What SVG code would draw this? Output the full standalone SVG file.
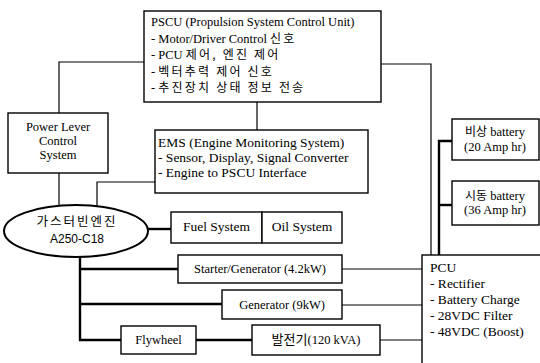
<svg xmlns="http://www.w3.org/2000/svg" width="540" height="363" viewBox="0 0 540 363">
<style>
.box{fill:#fff;stroke:#000;stroke-width:1.4}
.t{font-family:"Liberation Serif","Noto Sans CJK KR",serif;font-size:12.5px;fill:#000}
.m{font-size:13.5px}
.k{font-family:"Noto Sans CJK KR",sans-serif;font-size:12px;font-weight:400;letter-spacing:2.2px}
.kk{font-family:"Noto Sans CJK KR",sans-serif;font-size:12px;font-weight:400}
.c{text-anchor:middle}
.thin{fill:none;stroke:#000;stroke-width:1.2}
.thick{fill:none;stroke:#000;stroke-width:2.4}
</style>
<rect width="540" height="363" fill="#fff"/>
<g id="connectors">
<path class="thin" d="M144,62 H59 V113"/>
<path class="thin" d="M59,173 V206"/>
<path class="thin" d="M257,102 V130"/>
<path class="thin" d="M155,182 H97 V207"/>
<path class="thin" d="M381,64 H431 V255"/>
<path class="thick" d="M452,141 H439 V255"/>
<path class="thick" d="M439,205 H452"/>
<path class="thick" d="M148,229 H171"/>
<path class="thick" d="M80,257 V340 H121"/>
<path class="thick" d="M80,269 H178"/>
<path class="thick" d="M80,304 H222"/>
<path class="thick" d="M196,340 H252"/>
<path class="thin" d="M342,269 H422"/>
<path class="thin" d="M342,305 H422"/>
<path class="thin" d="M380,340 H422"/>
</g>
<g id="pscu">
<rect class="box" x="144" y="11" width="237" height="91"/>
<text class="t" x="151" y="26">PSCU (Propulsion System Control Unit)</text>
<text class="t" x="151" y="42.5">- Motor/Driver Control <tspan class="k">신호</tspan></text>
<text class="t" x="151" y="59">- PCU <tspan class="k">제어, 엔진 제어</tspan></text>
<text class="t" x="151" y="75.5">- <tspan class="k">벡터추력 제어 신호</tspan></text>
<text class="t" x="151" y="92">- <tspan class="k">추진장치 상태 정보 전송</tspan></text>
</g>
<g id="power-lever">
<rect class="box" x="8" y="113" width="100" height="60"/>
<text class="t c" x="58" y="131">Power Lever</text>
<text class="t c" x="58" y="145">Control</text>
<text class="t c" x="58" y="159">System</text>
</g>
<g id="ems">
<rect class="box" x="155" y="130" width="213" height="63"/>
<text class="t m" x="158" y="147">EMS (Engine Monitoring System)</text>
<text class="t m" x="158" y="162">- Sensor, Display, Signal Converter</text>
<text class="t m" x="158" y="177">- Engine to PSCU Interface</text>
</g>
<g id="engine">
<ellipse cx="76" cy="231" rx="72" ry="26" fill="#fff" stroke="#000" stroke-width="2"/>
<text class="c" x="77" y="226" style="font-family:'Noto Sans CJK KR',sans-serif;font-size:12.5px;letter-spacing:2px">가스터빈엔진</text>
<text class="c" x="77" y="243" style="font-family:'Liberation Sans','Noto Sans CJK KR',sans-serif;font-size:12px">A250-C18</text>
</g>
<g id="fuel-system">
<rect class="box" x="171" y="212" width="91" height="31"/>
<text class="t m c" x="216.5" y="231">Fuel System</text>
</g>
<g id="oil-system">
<rect class="box" x="262" y="212" width="80" height="31"/>
<text class="t m c" x="302" y="231">Oil System</text>
</g>
<g id="starter-generator">
<rect class="box" x="178" y="255" width="164" height="28"/>
<text class="t c" x="260" y="273">Starter/Generator (4.2kW)</text>
</g>
<g id="generator">
<rect class="box" x="222" y="290" width="120" height="29"/>
<text class="t c" x="282" y="309">Generator (9kW)</text>
</g>
<g id="flywheel">
<rect class="box" x="121" y="326" width="75" height="28"/>
<text class="t c" x="158.5" y="344">Flywheel</text>
</g>
<g id="alternator">
<rect class="box" x="252" y="325" width="128" height="30"/>
<text class="t c" x="316" y="344"><tspan class="kk" style="font-size:13px">발전기</tspan>(120 kVA)</text>
</g>
<g id="emergency-battery">
<rect class="box" x="452" y="119" width="87" height="41"/>
<text class="t c" x="495" y="136"><tspan class="kk">비상</tspan> battery</text>
<text class="t c" x="495" y="151">(20 Amp hr)</text>
</g>
<g id="starting-battery">
<rect class="box" x="452" y="181" width="87" height="44"/>
<text class="t c" x="495" y="200"><tspan class="kk">시동</tspan> battery</text>
<text class="t c" x="495" y="214">(36 Amp hr)</text>
</g>
<g id="pcu">
<rect class="box" x="422" y="255" width="125" height="115"/>
<text class="t m" x="430" y="272">PCU</text>
<text class="t m" x="430" y="288">- Rectifier</text>
<text class="t m" x="430" y="304">- Battery Charge</text>
<text class="t m" x="430" y="320">- 28VDC Filter</text>
<text class="t m" x="430" y="336">- 48VDC (Boost)</text>
</g>
</svg>
